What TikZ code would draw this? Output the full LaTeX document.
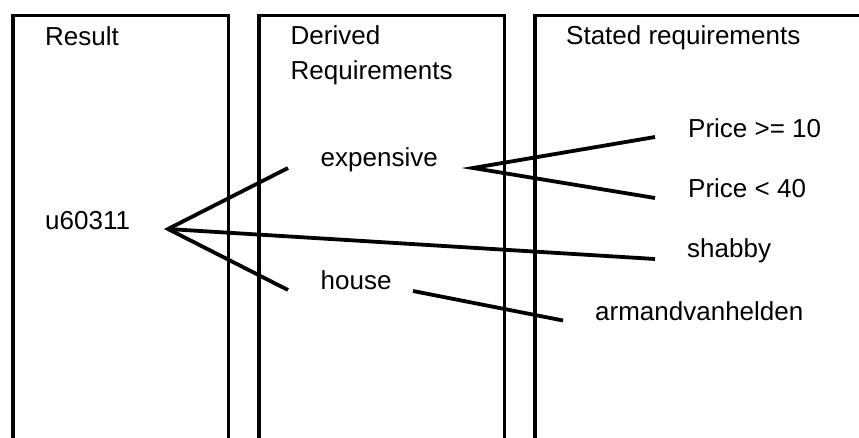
\documentclass[tikz,border=0pt]{standalone}
\usepackage{fontspec}
\setmainfont{Liberation Sans}
\begin{document}
\begin{tikzpicture}[x=1pt,y=-1pt,
  panel/.style={line width=3.6pt},
  link/.style={line width=3.8pt},
  lbl/.style={anchor=base west, inner sep=0pt, font=\fontsize{26}{35}\selectfont}]
\useasboundingbox (0,0) rectangle (859,438);
% panels
\draw[panel] (13,450) -- (13,15.5) -- (228.5,15.5) -- (228.5,450);
\draw[panel] (259,450) -- (259,15.5) -- (504.5,15.5) -- (504.5,450);
\draw[panel] (535,450) -- (535,15.5) -- (870,15.5);
% headings
\node[lbl] (hres) at (45,45.5) {Result};
\node[lbl, align=left] (hder) at (290.5,79.3) {Derived\\Requirements};
\node[lbl] (hsta) at (566,45) {Stated requirements};
% items
\node[lbl] (u) at (45,230) {u60311};
\node[lbl] (exp) at (320.5,167) {expensive};
\node[lbl] (house) at (320.5,290) {house};
\node[lbl] (p10) at (688,137.5) {Price >= 10};
\node[lbl] (p40) at (688,198) {Price < 40};
\node[lbl] (shab) at (687,258) {shabby};
\node[lbl] (arm) at (595,320) {armandvanhelden};
% connector ends
\coordinate (uR) at (168,229);
\coordinate (expL) at (288,168);
\coordinate (expR) at (473,168);
\coordinate (houseL) at (288,290);
\coordinate (houseR) at (413,291);
\coordinate (p10L) at (655,137);
\coordinate (p40L) at (655,198);
\coordinate (shabL) at (655,259);
\coordinate (armL) at (563,320.5);
% connectors
\draw[link] (expL) -- (uR) -- (houseL);
\draw[link] (uR) -- (shabL);
\draw[link] (p10L) -- (expR) -- (p40L);
\draw[link] (houseR) -- (armL);
\end{tikzpicture}
\end{document}
